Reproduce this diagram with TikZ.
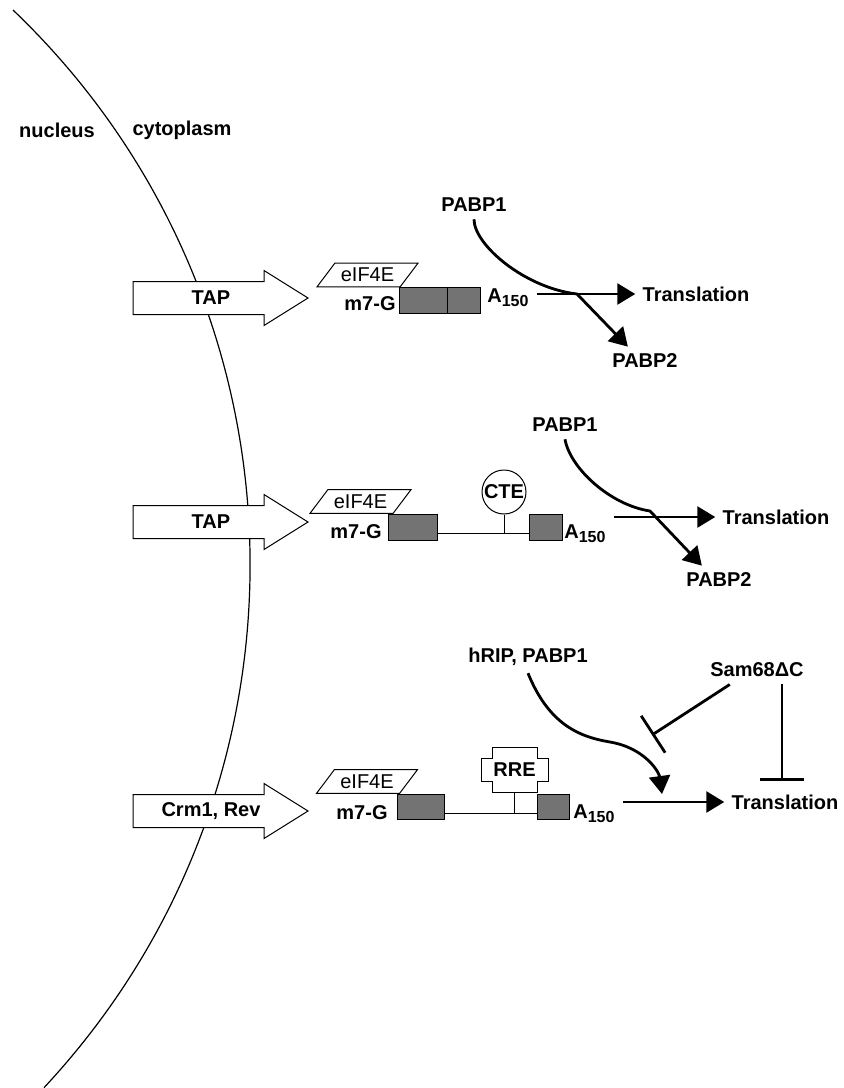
\documentclass[tikz,border=0pt]{standalone}
\usepackage{fontspec}
\setmainfont{Liberation Sans}
\usepackage{tikz}
\usetikzlibrary{shapes,arrows,positioning,calc,arrows.meta}

\newcommand{\polya}{A\textsubscript{\fontsize{8}{9}\selectfont 150}}

\tikzset{
    lab/.style={font=\bfseries, inner sep=3.5pt},
    exon/.style={draw, line width=0.5pt, fill=black!55, outer sep=0pt, minimum height=13pt, anchor=north west},
    capbox/.style={trapezium, draw, line width=0.5pt, trapezium left angle=53, trapezium right angle=127, inner xsep=3pt, inner ysep=2.4pt},
    pipe/.style={line width=0.5pt},
    flow/.style={line width=1.4pt, -{Triangle[length=9pt,width=10.5pt]}},
    block/.style={line width=1.4pt, -{Bar[width=22pt]}}
}

\begin{document}
\begin{tikzpicture}[x=0.5pt, y=-0.5pt]
    \useasboundingbox (0,0) rectangle (844,1088);

    % nuclear envelope
    \draw[line width=0.6pt] (13,10) arc[start angle=-46.3, end angle=43, radius=767];
    \node[lab] (nuc) at (57,130) {nucleus};
    \node[lab] (cyt) at (182,130) {cytoplasm};

    % export arrows
    \foreach \y/\txt/\nm in {298/TAP/exa, 522/TAP/exb, 811/{Crm1, Rev}/exc} {
        \draw[line width=0.5pt, fill=white] (133,\y-16.5) -- (264,\y-16.5) -- (264,\y-27.5) -- (308,\y)
            -- (264,\y+27.5) -- (264,\y+16.5) -- (133,\y+16.5) -- cycle;
        \node[lab] (\nm) at (211,\y) {\txt};
    }

    % spliced mRNA
    \node[capbox] (cap1) at (367.5,275) {eIF4E};
    \node[lab] (mg1) at (370,304) {m7-G};
    \node[exon, minimum width=24pt] (x11) at (399,287) {};
    \node[exon, minimum width=16.5pt, right=0pt of x11] (x12) {};
    \node[lab, anchor=base west] (pa1) at (480,302) {\polya};
    \node[lab] (tr1) at (696,294) {Translation};
    \node[lab] (pb1) at (474,205) {PABP1};
    \node[lab] (pc1) at (645,361) {PABP2};
    \draw[flow] (pa1.east |- tr1) -- (tr1.west);
    \draw[flow] (pb1.south) .. controls (474,245) and (525,288) .. (577,294) -- (pc1.140);

    % CTE mRNA
    \node[capbox] (cap2) at (360.5,501.5) {eIF4E};
    \node[lab] (mg2) at (356,532) {m7-G};
    \node[exon, minimum width=24.5pt] (x21) at (388,514) {};
    \node[exon, minimum width=16.5pt] (x22) at (529,514) {};
    \coordinate (m2) at ([yshift=3.5pt]x21.south east);
    \draw[pipe] (m2) -- (m2 -| x22.west);
    \node[circle, draw, line width=0.5pt, font=\bfseries, inner sep=0pt, minimum size=22pt] (cte) at (504,492) {CTE};
    \draw[pipe] (cte.south) -- (cte.south |- m2);
    \node[lab, anchor=base west] (pa2) at (557,538) {\polya};
    \node[lab] (tr2) at (776,517) {Translation};
    \node[lab] (pb2) at (565,425) {PABP1};
    \node[lab] (pc2) at (719,580) {PABP2};
    \draw[flow] (pa2.east |- tr2) -- (tr2.west);
    \draw[flow] (pb2.south) .. controls (570,468) and (610,505) .. (650,511) -- (pc2.140);

    % RRE mRNA
    \node[capbox] (cap3) at (367,781.5) {eIF4E};
    \node[lab] (mg3) at (362,813) {m7-G};
    \node[exon, minimum width=23.5pt, minimum height=12.5pt] (x31) at (397,794) {};
    \node[exon, minimum width=16pt, minimum height=12.5pt] (x32) at (537,794) {};
    \coordinate (m3) at ([yshift=3pt]x31.south east);
    \draw[pipe] (m3) -- (m3 -| x32.west);
    \node[lab] (rre) at (514.5,769.5) {RRE};
    \draw[pipe] ([shift={(-22.5,-22.5)}]rre.center) -- ++(45,0) -- ++(0,11) -- ++(11,0) -- ++(0,23) -- ++(-11,0)
        -- ++(0,11) -- ++(-45,0) -- ++(0,-11) -- ++(-11,0) -- ++(0,-23) -- ++(11,0) -- cycle;
    \draw[pipe] ([yshift=-11.25pt]rre.center) -- (rre.center |- m3);
    \node[lab, anchor=base west] (pa3) at (566,818) {\polya};
    \node[lab] (tr3) at (785,802) {Translation};
    \node[lab] (hr3) at (528,657) {hRIP, PABP1};
    \node[lab] (sam) at (757,670) {Sam68ΔC};
    \draw[flow] (pa3.east |- tr3) -- (tr3.west);
    \coordinate (hit) at (662,794);
    \coordinate (stop) at (652,735);
    \draw[flow] (hr3.south) .. controls (549,725) and (580,737) .. (610,742) .. controls (645,748) and (659,772) .. (hit);
    \draw[block] (sam.-152) -- (stop);
    \draw[block, shorten >=3pt] (sam.-30) -- (sam.-30 |- tr3.north);
\end{tikzpicture}
\end{document}
